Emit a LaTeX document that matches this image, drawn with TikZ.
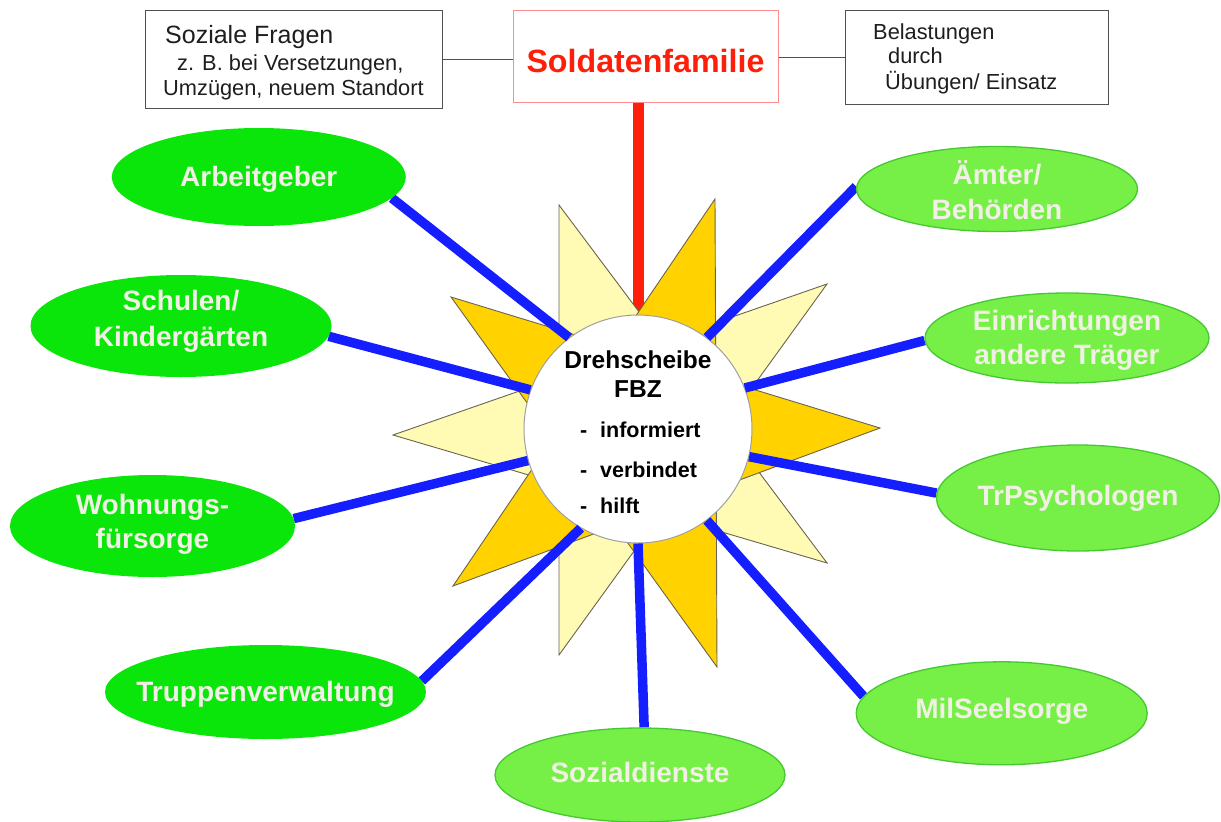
\documentclass[tikz,border=0pt]{standalone}
\usepackage{fontspec}
\setmainfont{Liberation Sans}
\usetikzlibrary{shapes.geometric}
\definecolor{lightstar}{RGB}{255,250,180}
\definecolor{darkstar}{RGB}{255,210,0}
\definecolor{starline}{RGB}{105,100,80}
\definecolor{brightgreen}{RGB}{10,230,10}
\definecolor{palegreen}{RGB}{118,240,70}
\definecolor{palegreenline}{RGB}{70,200,50}
\definecolor{linkblue}{RGB}{20,30,255}
\definecolor{soldred}{RGB}{255,30,10}
\definecolor{boxred}{RGB}{255,140,140}
\definecolor{boxgray}{RGB}{80,80,80}
\definecolor{labelwhite}{RGB}{242,240,230}
\definecolor{textdark}{RGB}{30,30,30}
\pgfdeclarelayer{base}
\pgfdeclarelayer{links}
\pgfsetlayers{base,links,main}
\tikzset{
  infobox/.style={draw=boxgray, line width=1.3pt, inner sep=0, anchor=north west, fill=white},
  redbox/.style={draw=boxred, line width=1.3pt, inner sep=0, anchor=north west, fill=white},
  ovalbright/.style={ellipse, fill=brightgreen, draw=none, inner sep=0},
  ovalpale/.style={ellipse, fill=palegreen, draw=palegreenline, line width=1.3pt, inner sep=0},
  ovaltext/.style={text=labelwhite, font=\fontsize{28}{34}\selectfont\bfseries, anchor=base, inner sep=0},
  boxtext/.style={text=textdark, anchor=base west, inner sep=0, font=\fontsize{21.8}{26}\selectfont},
  hubtitle/.style={text=black, anchor=base, inner sep=0, font=\fontsize{24.5}{29}\selectfont\bfseries},
  hubitem/.style={text=black, anchor=base west, inner sep=0, font=\fontsize{21.5}{26}\selectfont\bfseries},
  bluelink/.style={draw=linkblue, line width=9.5pt},
  greylink/.style={draw=boxgray, line width=1.3pt},
  starpart/.style={draw=starline, line width=0.9pt, line join=miter}
}
\begin{document}
\begin{tikzpicture}[x=1pt,y=-1pt]
\useasboundingbox (0,0) rectangle (1221,822);

% top boxes
\node[infobox, minimum width=297pt, minimum height=98pt] (lbox) at (145,10) {};
\node[redbox, minimum width=265pt, minimum height=92pt] (sbox) at (513,10) {};
\node[infobox, minimum width=263pt, minimum height=94pt] (rbox) at (845,10) {};
\draw[greylink] (lbox.east) -- (lbox.east -| sbox.west);
\draw[greylink] (sbox.east |- rbox.west) -- (rbox.west);

\node[boxtext, font=\fontsize{25}{30}\selectfont] (lt1) at (165,43) {Soziale Fragen};
\node[boxtext] (lt2) at (177,70) {z. B. bei Versetzungen,};
\node[boxtext] (lt3) at (163,95) {Umzügen, neuem Standort};
\node[text=soldred, anchor=base, inner sep=0, font=\fontsize{32.2}{38}\selectfont\bfseries] (st) at (645.5,72) {Soldatenfamilie};
\node[boxtext] (rt1) at (873,39) {Belastungen};
\node[boxtext] (rt2) at (888,63) {durch};
\node[boxtext] (rt3) at (885,89) {Übungen/ Einsatz};

\coordinate (valley) at (638,316);

\begin{pgfonlayer}{base}
\draw[soldred, line width=11pt] (valley |- sbox.south) -- (valley);
\filldraw[starpart, fill=lightstar] (827,284) -- (393,435) -- (827,563) -- (559,205) -- (559,655) -- cycle;
\filldraw[starpart, fill=darkstar] (880,428) -- (451,297) -- (717,667) -- (715,199) -- (453,586) -- cycle;
\node[circle, fill=white, draw=gray!75, line width=1pt, minimum size=228pt, inner sep=0] (hub) at (638,429) {};
\end{pgfonlayer}

% ellipses
\node[ovalbright, minimum width=294pt, minimum height=98pt] (arb) at (258.8,177) {};
\node[ovalbright, minimum width=301pt, minimum height=102pt] (schul) at (181,326) {};
\node[ovalbright, minimum width=285pt, minimum height=102pt] (wohn) at (152.5,526) {};
\node[ovalbright, minimum width=321pt, minimum height=94pt] (trupp) at (265.5,692) {};
\node[ovalpale, minimum width=290pt, minimum height=94pt] (sozial) at (640,775) {};
\node[ovalpale, minimum width=291pt, minimum height=103pt] (mil) at (1001.7,713.3) {};
\node[ovalpale, minimum width=283pt, minimum height=106pt] (trpsy) at (1078,498) {};
\node[ovalpale, minimum width=284pt, minimum height=90pt] (einr) at (1067,338) {};
\node[ovalpale, minimum width=281pt, minimum height=85pt] (aemt) at (997,189) {};

\begin{pgfonlayer}{links}
\draw[bluelink] (hub.127) -- (arb.-9.7);
\draw[bluelink] (hub.160.4) -- (schul.-4.7);
\draw[bluelink] (hub.196.4) -- (wohn.3.1);
\draw[bluelink] (hub.240.3) -- (trupp.4.4);
\draw[bluelink] (hub.270) -- (sozial.85);
\draw[bluelink] (hub.307.1) -- (mil.173);
\draw[bluelink] (hub.346.9) -- (trpsy.178.8);
\draw[bluelink] (hub.21.7) -- (einr.181.5);
\draw[bluelink] (hub.53.7) -- (aemt.179);
\end{pgfonlayer}

% ellipse labels
\node[ovaltext] (arbt) at ([yshift=-9pt]arb.center) {Arbeitgeber};
\node[ovaltext] (schult1) at ([yshift=16pt]schul.center) {Schulen/};
\node[ovaltext] (schult2) at ([yshift=-20pt]schul.center) {Kindergärten};
\node[ovaltext] (wohnt1) at ([yshift=12pt]wohn.center) {Wohnungs-};
\node[ovaltext] (wohnt2) at ([yshift=-22pt]wohn.center) {fürsorge};
\node[ovaltext] (truppt) at ([yshift=-9.7pt]trupp.center) {Truppenverwaltung};
\node[ovaltext] (sozialt) at ([yshift=-7.7pt]sozial.center) {Sozialdienste};
\node[ovaltext] (milt) at ([yshift=-5pt]mil.center) {MilSeelsorge};
\node[ovaltext] (trpsyt) at ([yshift=-7pt]trpsy.center) {TrPsychologen};
\node[ovaltext] (einrt1) at ([yshift=8pt]einr.center) {Einrichtungen};
\node[ovaltext] (einrt2) at ([yshift=-26pt]einr.center) {andere Träger};
\node[ovaltext] (aemtt1) at ([yshift=5pt]aemt.center) {Ämter/};
\node[ovaltext] (aemtt2) at ([yshift=-30pt]aemt.center) {Behörden};

% hub text
\node[hubtitle] (h1) at (638,368) {Drehscheibe};
\node[hubtitle] (h2) at (638,397) {FBZ};
\node[hubitem] (d1) at (580,437) {-};
\node[hubitem] (i1) at (600,437) {informiert};
\node[hubitem] (d2) at (580,477) {-};
\node[hubitem] (i2) at (600,477) {verbindet};
\node[hubitem] (d3) at (580,513) {-};
\node[hubitem] (i3) at (600,513) {hilft};
\end{tikzpicture}
\end{document}
